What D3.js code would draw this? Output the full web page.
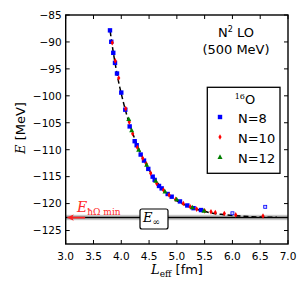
<!DOCTYPE html>
<html><head><meta charset="utf-8">
<script src="https://cdn.jsdelivr.net/npm/d3@7"></script>
<style>body{margin:0;background:#fff}svg{display:block}</style>
</head><body>
<script>
// ---- data ----
const xTicks = [3.0,3.5,4.0,4.5,5.0,5.5,6.0,6.5,7.0];
const yTicks = [-85,-90,-95,-100,-105,-110,-115,-120,-125];
const n8L = [3.797,3.820,3.856,3.887,3.923,4.000,4.072,4.151,4.241,4.277,4.349,4.409,4.486,4.565,4.601,4.679,4.727,4.835,4.907,5.056,5.188,5.300,5.434];
const n8E = [-87.85,-89.97,-92.02,-93.89,-95.86,-99.40,-102.57,-105.68,-108.42,-109.17,-110.90,-112.02,-113.56,-115.0,-115.61,-116.73,-117.18,-118.22,-118.72,-119.60,-120.35,-120.85,-121.20];
const n8OpenL = [6.00,6.59];
const n8OpenE = [-121.8,-120.6];
const n10L = [3.838,3.892,3.954,4.080,4.144,4.205,4.290,4.385,4.450,4.529,4.637,4.760,4.860,4.980,5.116,5.240,5.357,5.500,5.614,5.692,5.854,6.06,6.55];
const n10E = [-90.16,-93.52,-96.68,-102.38,-104.88,-107.04,-109.6,-111.59,-112.6,-114.38,-116.25,-117.5,-118.4,-119.2,-119.97,-120.6,-121.02,-121.35,-121.52,-121.65,-121.84,-122.1,-122.3];
const n12L = [4.134,4.187,4.313,4.457,4.620,4.787,4.997,5.278,5.488];
const n12E = [-104.32,-106.43,-110.02,-112.82,-115.8,-117.79,-119.23,-120.72,-121.33];
const fitL = [3.80,3.85,3.90,3.95,4.00,4.10,4.20,4.30,4.40,4.50,4.60,4.70,4.80,4.90,5.00,5.20,5.40,5.60,5.80,6.00,6.20,6.50,6.80];
const fitE = [-88.0,-91.5,-94.6,-97.3,-99.6,-103.6,-106.8,-109.5,-111.8,-113.7,-115.4,-116.8,-117.9,-118.8,-119.5,-120.5,-121.2,-121.7,-122.0,-122.2,-122.35,-122.5,-122.55];
const eInf = -122.58, eInfErr = 0.5;
const eHwMin = -122.6, eHwMinL = [3.35, 3.0];
const legendLabels = ["N=8","N=10","N=12"];
const colors = ["#0000ff","#ff0000","#008000"];

// ---- chart ----
const W=306,H=294;
const m={l:65.7,r:288,t:15,b:244};
const svg=d3.select("body").append("svg").attr("width",W).attr("height",H);
const x=d3.scaleLinear().domain([3,7]).range([m.l,m.r]);
const y=d3.scaleLinear().domain([-127.5,-85]).range([m.b,m.t]);
const sans="'DejaVu Sans', sans-serif", serif="'DejaVu Serif', serif";

svg.append("clipPath").attr("id","c").append("rect")
  .attr("x",m.l).attr("y",m.t).attr("width",m.r-m.l).attr("height",m.b-m.t);
const g=svg.append("g").attr("clip-path","url(#c)");

// E_inf band and line
g.append("rect").attr("x",m.l).attr("width",m.r-m.l)
  .attr("y",y(eInf+eInfErr)).attr("height",y(eInf-eInfErr)-y(eInf+eInfErr))
  .attr("fill","#c8c8c8");
g.append("line").attr("x1",m.l).attr("x2",m.r).attr("y1",y(eInf)).attr("y2",y(eInf))
  .attr("stroke","#000").attr("stroke-width",1.3);

// red arrow
g.append("line").attr("x1",x(eHwMinL[0])).attr("x2",x(eHwMinL[1])+5)
  .attr("y1",y(eHwMin)).attr("y2",y(eHwMin)).attr("stroke","#ff2020").attr("stroke-width",1.6);
g.append("path").attr("d",`M${x(eHwMinL[1])+1},${y(eHwMin)} l7,-3.2 l-1.5,3.2 l1.5,3.2 z`).attr("fill","#ff2020");

// fit line
const fit=fitL.map((l,i)=>[l,fitE[i]]);
g.append("path").datum(fit).attr("d",d3.line().x(d=>x(d[0])).y(d=>y(d[1])).curve(d3.curveMonotoneX))
  .attr("fill","none").attr("stroke","#000").attr("stroke-width",1.5).attr("stroke-dasharray","5,3");

// markers
function square(sel,pts,col){sel.selectAll(null).data(pts).enter().append("rect")
  .attr("x",d=>x(d[0])-2.2).attr("y",d=>y(d[1])-2.2).attr("width",4.4).attr("height",4.4).attr("fill",col);}
function diamond(sel,pts,col){sel.selectAll(null).data(pts).enter().append("path")
  .attr("d",d=>`M${x(d[0])},${y(d[1])-2.8} L${x(d[0])+1.6},${y(d[1])} L${x(d[0])},${y(d[1])+2.8} L${x(d[0])-1.6},${y(d[1])} Z`).attr("fill",col);}
function tri(sel,pts,col){sel.selectAll(null).data(pts).enter().append("path")
  .attr("d",d=>`M${x(d[0])},${y(d[1])-2.7} L${x(d[0])+2.5},${y(d[1])+1.9} L${x(d[0])-2.5},${y(d[1])+1.9} Z`).attr("fill",col);}
square(g,n8L.map((l,i)=>[l,n8E[i]]),colors[0]);
g.selectAll(null).data(n8OpenL.map((l,i)=>[l,n8OpenE[i]])).enter().append("rect")
  .attr("x",d=>x(d[0])-1.5).attr("y",d=>y(d[1])-1.5).attr("width",3).attr("height",3)
  .attr("fill","#ccccff").attr("stroke",colors[0]).attr("stroke-width",0.8);
diamond(g,n10L.map((l,i)=>[l,n10E[i]]),colors[1]);
tri(g,n12L.map((l,i)=>[l,n12E[i]]),colors[2]);

// frame + ticks (inward on all sides)
const fr=svg.append("g");
xTicks.forEach(t=>{
  fr.append("line").attr("x1",x(t)).attr("x2",x(t)).attr("y1",m.b).attr("y2",m.b-4).attr("stroke","#000");
  fr.append("line").attr("x1",x(t)).attr("x2",x(t)).attr("y1",m.t).attr("y2",m.t+4).attr("stroke","#000");
  fr.append("text").attr("x",x(t)).attr("y",m.b+16).attr("text-anchor","middle")
    .attr("font-family",sans).attr("font-size",10.5).text(d3.format(".1f")(t));
});
yTicks.forEach(t=>{
  fr.append("line").attr("x1",m.l).attr("x2",m.l+4).attr("y1",y(t)).attr("y2",y(t)).attr("stroke","#000");
  fr.append("line").attr("x1",m.r).attr("x2",m.r-4).attr("y1",y(t)).attr("y2",y(t)).attr("stroke","#000");
  fr.append("text").attr("x",m.l-4).attr("y",y(t)+3.8).attr("text-anchor","end")
    .attr("font-family",sans).attr("font-size",10.5).text(String(t).replace("-","\u2212"));
});
fr.append("rect").attr("x",m.l).attr("y",m.t).attr("width",m.r-m.l).attr("height",m.b-m.t)
  .attr("fill","none").attr("stroke","#000").attr("stroke-width",1.4);

// E_inf label box
svg.append("rect").attr("x",140).attr("y",209).attr("width",28).attr("height",20).attr("rx",2)
  .attr("fill","#fff").attr("stroke","#000").attr("stroke-width",1.2);
const ei=svg.append("text").attr("x",143).attr("y",222).attr("font-family",serif).attr("font-size",13);
ei.append("tspan").attr("font-style","italic").text("E");
ei.append("tspan").attr("font-size",9).attr("dy",3).text("\u221E");

// E_hw min label
const eh=svg.append("text").attr("x",77).attr("y",212).attr("font-family",serif).attr("font-size",14).attr("fill","#ff2828");
eh.append("tspan").attr("font-style","italic").text("E");
eh.append("tspan").attr("font-size",9).attr("dy",2.5).text("\u0127\u03A9 min");

// title
const t1=svg.append("text").attr("x",236).attr("y",37).attr("text-anchor","middle").attr("font-family",sans).attr("font-size",13);
t1.append("tspan").text("N");
t1.append("tspan").attr("font-size",8).attr("dy",-5).text("2");
t1.append("tspan").attr("dy",5).text(" LO");
svg.append("text").attr("x",236).attr("y",54).attr("text-anchor","middle").attr("font-family",sans).attr("font-size",13).text("(500 MeV)");

// legend
svg.append("rect").attr("x",207.3).attr("y",87.3).attr("width",72.7).attr("height",86)
  .attr("fill","#fff").attr("stroke","#000").attr("stroke-width",1.3);
const lt=svg.append("text").attr("x",245).attr("y",104).attr("text-anchor","middle").attr("font-family",sans).attr("font-size",13);
lt.append("tspan").attr("font-family",serif).attr("font-size",8).attr("dy",-5).text("16");
lt.append("tspan").attr("dy",5).text("O");
const lg=svg.append("g");
const ly=[121,141,161];
const lx=x.invert(220);
square(lg,[[lx,y.invert(ly[0]-4)]],colors[0]);
diamond(lg,[[lx,y.invert(ly[1]-4)]],colors[1]);
tri(lg,[[lx,y.invert(ly[2]-4)]],colors[2]);
legendLabels.forEach((s,i)=>{
  lg.append("text").attr("x",238).attr("y",ly[i]+1.5).attr("font-family",sans).attr("font-size",13).text(s);
});

// axis labels
const yl=svg.append("text").attr("transform","translate(25,128) rotate(-90)").attr("text-anchor","middle").attr("font-size",13);
yl.append("tspan").attr("font-family",serif).attr("font-style","italic").text("E");
yl.append("tspan").attr("font-family",sans).text(" [MeV]");
const xl=svg.append("text").attr("x",177).attr("y",274).attr("text-anchor","middle").attr("font-size",13);
xl.append("tspan").attr("font-family",serif).attr("font-style","italic").text("L");
xl.append("tspan").attr("font-family",serif).attr("font-size",9).attr("dy",3).text("eff");
xl.append("tspan").attr("font-family",sans).attr("dy",-3).text(" [fm]");
</script>
</body></html>
